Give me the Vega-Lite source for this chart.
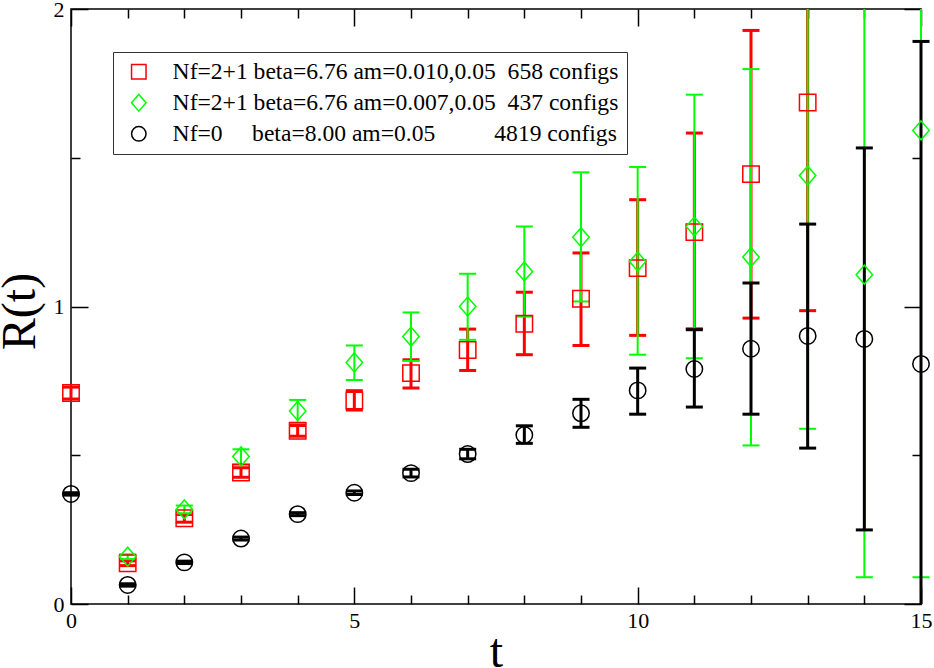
{
  "$schema": "https://vega.github.io/schema/vega-lite/v6.json",
  "width": 850,
  "height": 595,
  "autosize": {"type": "none"},
  "padding": {"left": 71, "top": 9, "right": 13, "bottom": 64},
  "background": "white",
  "config": {
    "view": {"stroke": "black", "strokeWidth": 1.5},
    "axis": {
      "grid": false, "domain": false, "tickColor": "black", "tickWidth": 1.5, "labelOverlap": false,
      "labelFont": "Liberation Serif", "labelFontSize": 22, "labelColor": "black", "labelFlush": false,
      "titleFont": "Liberation Serif", "titleFontSize": 48, "titleFontWeight": "normal", "titleColor": "black"
    },
    "tick": {"opacity": 1},
    "rule": {"opacity": 1}
  },
  "datasets": {"pts": [
    {"series": "Nf=2+1 beta=6.76 am=0.010,0.05\u00a0\u00a0658 configs", "t": 0, "R": 0.709, "lo": 0.689, "hi": 0.729},
    {"series": "Nf=2+1 beta=6.76 am=0.010,0.05\u00a0\u00a0658 configs", "t": 1, "R": 0.137, "lo": 0.129, "hi": 0.145},
    {"series": "Nf=2+1 beta=6.76 am=0.010,0.05\u00a0\u00a0658 configs", "t": 2, "R": 0.288, "lo": 0.275, "hi": 0.301},
    {"series": "Nf=2+1 beta=6.76 am=0.010,0.05\u00a0\u00a0658 configs", "t": 3, "R": 0.442, "lo": 0.426, "hi": 0.458},
    {"series": "Nf=2+1 beta=6.76 am=0.010,0.05\u00a0\u00a0658 configs", "t": 4, "R": 0.582, "lo": 0.564, "hi": 0.600},
    {"series": "Nf=2+1 beta=6.76 am=0.010,0.05\u00a0\u00a0658 configs", "t": 5, "R": 0.684, "lo": 0.652, "hi": 0.717},
    {"series": "Nf=2+1 beta=6.76 am=0.010,0.05\u00a0\u00a0658 configs", "t": 6, "R": 0.776, "lo": 0.726, "hi": 0.821},
    {"series": "Nf=2+1 beta=6.76 am=0.010,0.05\u00a0\u00a0658 configs", "t": 7, "R": 0.854, "lo": 0.785, "hi": 0.924},
    {"series": "Nf=2+1 beta=6.76 am=0.010,0.05\u00a0\u00a0658 configs", "t": 8, "R": 0.942, "lo": 0.838, "hi": 1.048},
    {"series": "Nf=2+1 beta=6.76 am=0.010,0.05\u00a0\u00a0658 configs", "t": 9, "R": 1.026, "lo": 0.869, "hi": 1.180},
    {"series": "Nf=2+1 beta=6.76 am=0.010,0.05\u00a0\u00a0658 configs", "t": 10, "R": 1.129, "lo": 0.903, "hi": 1.359},
    {"series": "Nf=2+1 beta=6.76 am=0.010,0.05\u00a0\u00a0658 configs", "t": 11, "R": 1.250, "lo": 0.925, "hi": 1.583},
    {"series": "Nf=2+1 beta=6.76 am=0.010,0.05\u00a0\u00a0658 configs", "t": 12, "R": 1.445, "lo": 0.961, "hi": 1.928},
    {"series": "Nf=2+1 beta=6.76 am=0.010,0.05\u00a0\u00a0658 configs", "t": 13, "R": 1.686, "lo": 0.986, "hi": 2.386},
    {"series": "Nf=2+1 beta=6.76 am=0.007,0.05\u00a0\u00a0437 configs", "t": 1, "R": 0.159, "lo": 0.151, "hi": 0.167},
    {"series": "Nf=2+1 beta=6.76 am=0.007,0.05\u00a0\u00a0437 configs", "t": 2, "R": 0.318, "lo": 0.305, "hi": 0.331},
    {"series": "Nf=2+1 beta=6.76 am=0.007,0.05\u00a0\u00a0437 configs", "t": 3, "R": 0.496, "lo": 0.468, "hi": 0.520},
    {"series": "Nf=2+1 beta=6.76 am=0.007,0.05\u00a0\u00a0437 configs", "t": 4, "R": 0.649, "lo": 0.610, "hi": 0.686},
    {"series": "Nf=2+1 beta=6.76 am=0.007,0.05\u00a0\u00a0437 configs", "t": 5, "R": 0.812, "lo": 0.753, "hi": 0.869},
    {"series": "Nf=2+1 beta=6.76 am=0.007,0.05\u00a0\u00a0437 configs", "t": 6, "R": 0.899, "lo": 0.817, "hi": 0.980},
    {"series": "Nf=2+1 beta=6.76 am=0.007,0.05\u00a0\u00a0437 configs", "t": 7, "R": 1.000, "lo": 0.888, "hi": 1.110},
    {"series": "Nf=2+1 beta=6.76 am=0.007,0.05\u00a0\u00a0437 configs", "t": 8, "R": 1.118, "lo": 0.966, "hi": 1.269},
    {"series": "Nf=2+1 beta=6.76 am=0.007,0.05\u00a0\u00a0437 configs", "t": 9, "R": 1.233, "lo": 1.017, "hi": 1.451},
    {"series": "Nf=2+1 beta=6.76 am=0.007,0.05\u00a0\u00a0437 configs", "t": 10, "R": 1.151, "lo": 0.838, "hi": 1.469},
    {"series": "Nf=2+1 beta=6.76 am=0.007,0.05\u00a0\u00a0437 configs", "t": 11, "R": 1.269, "lo": 0.826, "hi": 1.712},
    {"series": "Nf=2+1 beta=6.76 am=0.007,0.05\u00a0\u00a0437 configs", "t": 12, "R": 1.166, "lo": 0.533, "hi": 1.798},
    {"series": "Nf=2+1 beta=6.76 am=0.007,0.05\u00a0\u00a0437 configs", "t": 13, "R": 1.440, "lo": 0.589, "hi": 2.291},
    {"series": "Nf=2+1 beta=6.76 am=0.007,0.05\u00a0\u00a0437 configs", "t": 14, "R": 1.107, "lo": 0.090, "hi": 2.124},
    {"series": "Nf=2+1 beta=6.76 am=0.007,0.05\u00a0\u00a0437 configs", "t": 15, "R": 1.592, "lo": 0.090, "hi": 3.094},
    {"series": "Nf=0\u00a0\u00a0\u00a0\u00a0\u00a0beta=8.00 am=0.05\u00a0\u00a0\u00a0\u00a0\u00a0\u00a0\u00a0\u00a0\u00a0\u00a04819 configs", "t": 0, "R": 0.370, "lo": 0.366, "hi": 0.374},
    {"series": "Nf=0\u00a0\u00a0\u00a0\u00a0\u00a0beta=8.00 am=0.05\u00a0\u00a0\u00a0\u00a0\u00a0\u00a0\u00a0\u00a0\u00a0\u00a04819 configs", "t": 1, "R": 0.064, "lo": 0.060, "hi": 0.068},
    {"series": "Nf=0\u00a0\u00a0\u00a0\u00a0\u00a0beta=8.00 am=0.05\u00a0\u00a0\u00a0\u00a0\u00a0\u00a0\u00a0\u00a0\u00a0\u00a04819 configs", "t": 2, "R": 0.140, "lo": 0.136, "hi": 0.144},
    {"series": "Nf=0\u00a0\u00a0\u00a0\u00a0\u00a0beta=8.00 am=0.05\u00a0\u00a0\u00a0\u00a0\u00a0\u00a0\u00a0\u00a0\u00a0\u00a04819 configs", "t": 3, "R": 0.220, "lo": 0.215, "hi": 0.225},
    {"series": "Nf=0\u00a0\u00a0\u00a0\u00a0\u00a0beta=8.00 am=0.05\u00a0\u00a0\u00a0\u00a0\u00a0\u00a0\u00a0\u00a0\u00a0\u00a04819 configs", "t": 4, "R": 0.302, "lo": 0.297, "hi": 0.307},
    {"series": "Nf=0\u00a0\u00a0\u00a0\u00a0\u00a0beta=8.00 am=0.05\u00a0\u00a0\u00a0\u00a0\u00a0\u00a0\u00a0\u00a0\u00a0\u00a04819 configs", "t": 5, "R": 0.374, "lo": 0.368, "hi": 0.380},
    {"series": "Nf=0\u00a0\u00a0\u00a0\u00a0\u00a0beta=8.00 am=0.05\u00a0\u00a0\u00a0\u00a0\u00a0\u00a0\u00a0\u00a0\u00a0\u00a04819 configs", "t": 6, "R": 0.440, "lo": 0.427, "hi": 0.453},
    {"series": "Nf=0\u00a0\u00a0\u00a0\u00a0\u00a0beta=8.00 am=0.05\u00a0\u00a0\u00a0\u00a0\u00a0\u00a0\u00a0\u00a0\u00a0\u00a04819 configs", "t": 7, "R": 0.504, "lo": 0.488, "hi": 0.520},
    {"series": "Nf=0\u00a0\u00a0\u00a0\u00a0\u00a0beta=8.00 am=0.05\u00a0\u00a0\u00a0\u00a0\u00a0\u00a0\u00a0\u00a0\u00a0\u00a04819 configs", "t": 8, "R": 0.568, "lo": 0.540, "hi": 0.599},
    {"series": "Nf=0\u00a0\u00a0\u00a0\u00a0\u00a0beta=8.00 am=0.05\u00a0\u00a0\u00a0\u00a0\u00a0\u00a0\u00a0\u00a0\u00a0\u00a04819 configs", "t": 9, "R": 0.641, "lo": 0.594, "hi": 0.688},
    {"series": "Nf=0\u00a0\u00a0\u00a0\u00a0\u00a0beta=8.00 am=0.05\u00a0\u00a0\u00a0\u00a0\u00a0\u00a0\u00a0\u00a0\u00a0\u00a04819 configs", "t": 10, "R": 0.718, "lo": 0.638, "hi": 0.793},
    {"series": "Nf=0\u00a0\u00a0\u00a0\u00a0\u00a0beta=8.00 am=0.05\u00a0\u00a0\u00a0\u00a0\u00a0\u00a0\u00a0\u00a0\u00a0\u00a04819 configs", "t": 11, "R": 0.790, "lo": 0.662, "hi": 0.922},
    {"series": "Nf=0\u00a0\u00a0\u00a0\u00a0\u00a0beta=8.00 am=0.05\u00a0\u00a0\u00a0\u00a0\u00a0\u00a0\u00a0\u00a0\u00a0\u00a04819 configs", "t": 12, "R": 0.858, "lo": 0.638, "hi": 1.079},
    {"series": "Nf=0\u00a0\u00a0\u00a0\u00a0\u00a0beta=8.00 am=0.05\u00a0\u00a0\u00a0\u00a0\u00a0\u00a0\u00a0\u00a0\u00a0\u00a04819 configs", "t": 13, "R": 0.901, "lo": 0.524, "hi": 1.277},
    {"series": "Nf=0\u00a0\u00a0\u00a0\u00a0\u00a0beta=8.00 am=0.05\u00a0\u00a0\u00a0\u00a0\u00a0\u00a0\u00a0\u00a0\u00a0\u00a04819 configs", "t": 14, "R": 0.891, "lo": 0.249, "hi": 1.533},
    {"series": "Nf=0\u00a0\u00a0\u00a0\u00a0\u00a0beta=8.00 am=0.05\u00a0\u00a0\u00a0\u00a0\u00a0\u00a0\u00a0\u00a0\u00a0\u00a04819 configs", "t": 15, "R": 0.807, "lo": -0.277, "hi": 1.891}
  ]},
  "data": {"name": "pts"},
  "resolve": {"axis": {"x": "independent", "y": "independent"}},
  "layer": [
    {
      "transform": [{"filter": "indexof(datum.series, '658') >= 0"}],
      "mark": {"type": "rule", "color": "#ff0000", "strokeWidth": 3},
      "encoding": {
        "x": {"field": "t", "type": "quantitative", "scale": {"domain": [0, 15], "nice": false, "zero": false},
              "axis": {"orient": "bottom", "values": [0, 5, 10, 15], "tickCount": 20, "tickSize": -17, "labelPadding": 23, "format": ".0f", "labelOverlap": false,
                       "title": "t", "titleX": 425, "titleY": 62, "titleBaseline": "alphabetic", "titleAlign": "center"}},
        "y": {"field": "lo", "type": "quantitative", "scale": {"domain": [0, 2], "nice": false, "zero": false, "clamp": true},
              "axis": {"orient": "left", "values": [0, 1, 2], "tickCount": 10, "tickSize": -17, "labelPadding": 24, "format": ".0f", "labelOverlap": false, "labelBound": false,
                       "title": "R(t)", "titleX": -37, "titleY": 302, "titleAngle": -90, "titleBaseline": "alphabetic", "titleAlign": "center"}},
        "y2": {"field": "hi"}
      }
    },
    {
      "transform": [{"filter": "datum.hi <= 2 && indexof(datum.series, '658') >= 0"}],
      "mark": {"type": "tick", "orient": "horizontal", "size": 17, "thickness": 3, "color": "#ff0000"},
      "encoding": {
        "x": {"field": "t", "type": "quantitative", "axis": {"orient": "bottom", "values": [1, 2, 3, 4, 6, 7, 8, 9, 11, 12, 13, 14], "tickCount": 20, "tickSize": -9, "labels": false, "title": null}},
        "y": {"field": "hi", "type": "quantitative", "axis": {"orient": "left", "values": [0.5, 1.5], "tickCount": 10, "tickSize": -9, "labels": false, "title": null}}
      }
    },
    {
      "transform": [{"filter": "datum.lo >= 0 && indexof(datum.series, '658') >= 0"}],
      "mark": {"type": "tick", "orient": "horizontal", "size": 17, "thickness": 3, "color": "#ff0000"},
      "encoding": {
        "x": {"field": "t", "type": "quantitative", "axis": {"orient": "top", "values": [0, 5, 10, 15], "tickCount": 20, "tickSize": -17, "labels": false, "title": null}},
        "y": {"field": "lo", "type": "quantitative", "axis": {"orient": "right", "values": [0, 1, 2], "tickCount": 10, "tickSize": -17, "labels": false, "title": null}}
      }
    },
    {
      "transform": [{"filter": "indexof(datum.series, '437') >= 0"}],
      "mark": {"type": "rule", "color": "#00ff00", "strokeWidth": 2},
      "encoding": {
        "x": {"field": "t", "type": "quantitative", "axis": {"orient": "top", "values": [1, 2, 3, 4, 6, 7, 8, 9, 11, 12, 13, 14], "tickCount": 20, "tickSize": -9, "labels": false, "title": null}},
        "y": {"field": "lo", "type": "quantitative", "axis": {"orient": "right", "values": [0.5, 1.5], "tickCount": 10, "tickSize": -9, "labels": false, "title": null}},
        "y2": {"field": "hi"}
      }
    },
    {
      "transform": [{"filter": "datum.hi <= 2 && indexof(datum.series, '437') >= 0"}],
      "mark": {"type": "tick", "orient": "horizontal", "size": 17, "thickness": 2, "color": "#00ff00"},
      "encoding": {
        "x": {"field": "t", "type": "quantitative", "axis": null},
        "y": {"field": "hi", "type": "quantitative", "axis": null}
      }
    },
    {
      "transform": [{"filter": "datum.lo >= 0 && indexof(datum.series, '437') >= 0"}],
      "mark": {"type": "tick", "orient": "horizontal", "size": 17, "thickness": 2, "color": "#00ff00"},
      "encoding": {
        "x": {"field": "t", "type": "quantitative", "axis": null},
        "y": {"field": "lo", "type": "quantitative", "axis": null}
      }
    },
    {
      "transform": [{"filter": "indexof(datum.series, '4819') >= 0"}],
      "mark": {"type": "rule", "color": "#000000", "strokeWidth": 3},
      "encoding": {
        "x": {"field": "t", "type": "quantitative", "axis": null},
        "y": {"field": "lo", "type": "quantitative", "axis": null},
        "y2": {"field": "hi"}
      }
    },
    {
      "transform": [{"filter": "datum.hi <= 2 && indexof(datum.series, '4819') >= 0"}],
      "mark": {"type": "tick", "orient": "horizontal", "size": 17, "thickness": 3, "color": "#000000"},
      "encoding": {
        "x": {"field": "t", "type": "quantitative", "axis": null},
        "y": {"field": "hi", "type": "quantitative", "axis": null}
      }
    },
    {
      "transform": [{"filter": "datum.lo >= 0 && indexof(datum.series, '4819') >= 0"}],
      "mark": {"type": "tick", "orient": "horizontal", "size": 17, "thickness": 3, "color": "#000000"},
      "encoding": {
        "x": {"field": "t", "type": "quantitative", "axis": null},
        "y": {"field": "lo", "type": "quantitative", "axis": null}
      }
    },
    {
      "mark": {"type": "point", "filled": false, "strokeWidth": 1.5, "size": 270, "opacity": 1},
      "encoding": {
        "x": {"field": "t", "type": "quantitative", "axis": null},
        "y": {"field": "R", "type": "quantitative", "axis": null},
        "color": {"field": "series", "type": "nominal",
                  "scale": {"domain": ["Nf=2+1 beta=6.76 am=0.010,0.05\u00a0\u00a0658 configs", "Nf=2+1 beta=6.76 am=0.007,0.05\u00a0\u00a0437 configs", "Nf=0\u00a0\u00a0\u00a0\u00a0\u00a0beta=8.00 am=0.05\u00a0\u00a0\u00a0\u00a0\u00a0\u00a0\u00a0\u00a0\u00a0\u00a04819 configs"], "range": ["#ff0000", "#00ff00", "#000000"]},
                  "legend": {"orient": "none", "legendX": 42, "legendY": 43, "title": null,
                             "labelFont": "Liberation Serif", "labelFontSize": 23.6, "labelColor": "black", "labelLimit": 1000,
                             "labelOffset": 22, "symbolSize": 210, "symbolStrokeWidth": 1.5, "symbolOffset": 6,
                             "strokeColor": "#333333", "fillColor": "white", "padding": 8, "rowPadding": 6}},
        "shape": {"field": "series", "type": "nominal",
                  "scale": {"domain": ["Nf=2+1 beta=6.76 am=0.010,0.05\u00a0\u00a0658 configs", "Nf=2+1 beta=6.76 am=0.007,0.05\u00a0\u00a0437 configs", "Nf=0\u00a0\u00a0\u00a0\u00a0\u00a0beta=8.00 am=0.05\u00a0\u00a0\u00a0\u00a0\u00a0\u00a0\u00a0\u00a0\u00a0\u00a04819 configs"],
                            "range": ["square", "M -1 0 L 0 -1.15 L 1 0 L 0 1.15 Z", "circle"]},
                  "legend": {"orient": "none", "legendX": 42, "legendY": 43, "title": null,
                             "labelFont": "Liberation Serif", "labelFontSize": 23.6, "labelColor": "black", "labelLimit": 1000,
                             "labelOffset": 22, "symbolSize": 210, "symbolStrokeWidth": 1.5, "symbolOffset": 6,
                             "strokeColor": "#333333", "fillColor": "white", "padding": 8, "rowPadding": 6}}
      }
    }
  ]
}
